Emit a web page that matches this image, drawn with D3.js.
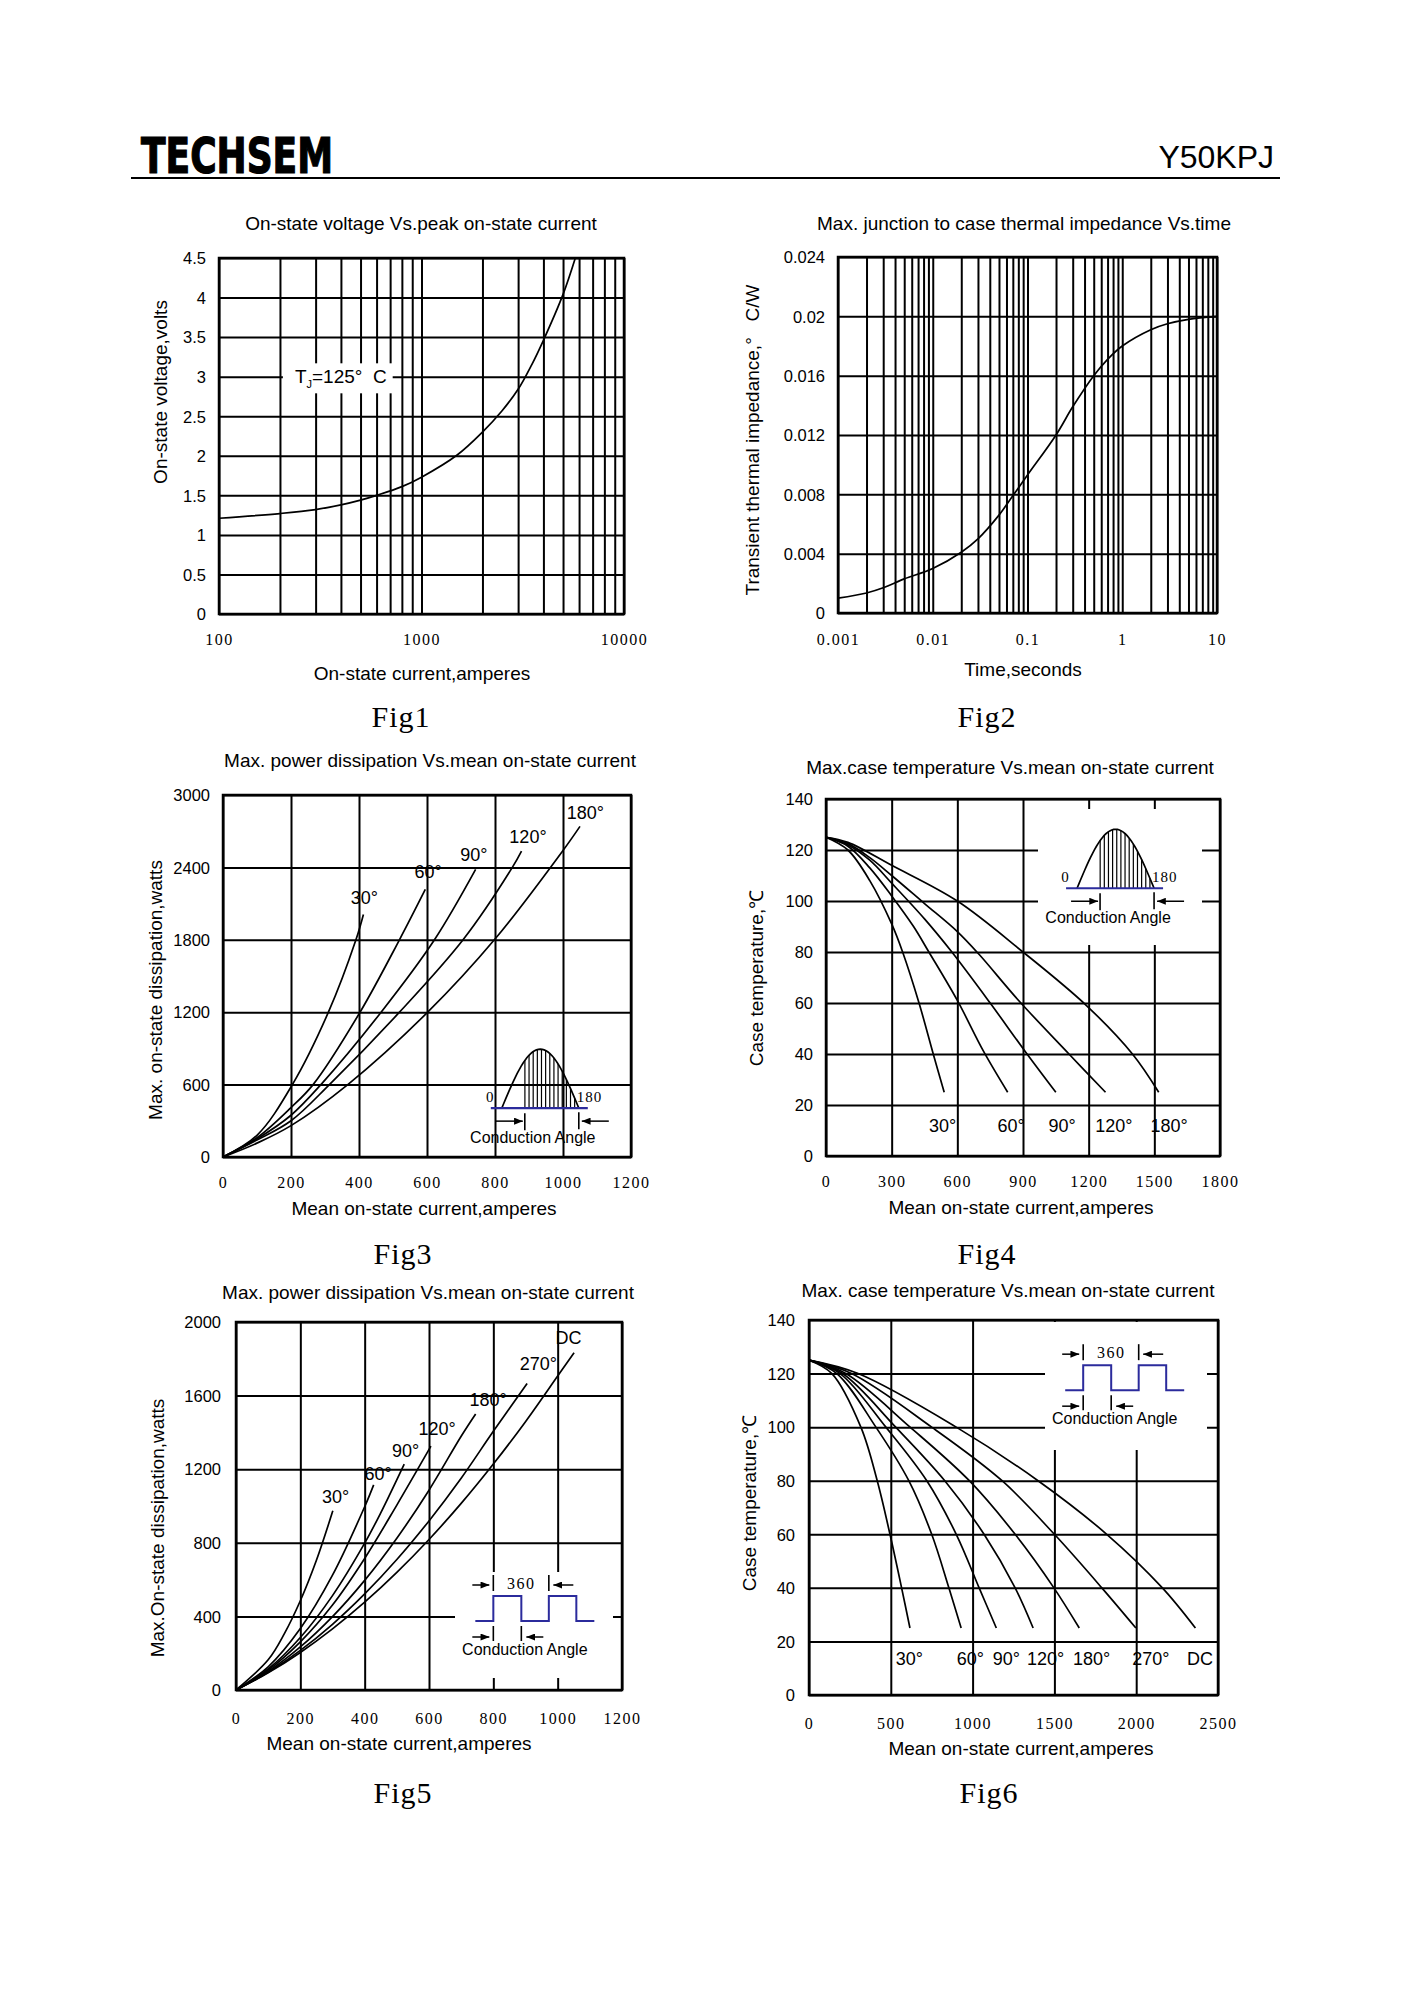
<!DOCTYPE html>
<html lang="en">
<head>
<meta charset="utf-8">
<title>Y50KPJ</title>
<script src="https://d3js.org/d3.v7.min.js"></script>
<style>
  body { margin: 0; background: #fff; }
  svg text { fill: #000; }
</style>
</head>
<body>
<svg id="page" width="1414" height="2000"></svg>
<script>
// ---------- data ----------
// Fig1: on-state voltage vs peak current (log x)
const fig1Current = [100, 200, 300, 400, 500, 600, 800, 1000, 1500, 2000, 2500, 3000, 3500, 4000, 5000, 5750];
const fig1Voltage = [1.21, 1.27, 1.32, 1.38, 1.44, 1.5, 1.61, 1.73, 2.01, 2.3, 2.57, 2.84, 3.15, 3.46, 4.04, 4.5];
const fig1XTicks = [100, 1000, 10000];
const fig1XLabels = ["100", "1000", "10000"];
const fig1YTicks = [0, 0.5, 1, 1.5, 2, 2.5, 3, 3.5, 4, 4.5];
const fig1YLabels = ["0", "0.5", "1", "1.5", "2", "2.5", "3", "3.5", "4", "4.5"];

// Fig2: transient thermal impedance vs time (log x)
const fig2Time = [0.001, 0.002, 0.003, 0.005, 0.01, 0.02, 0.03, 0.05, 0.07, 0.1, 0.2, 0.3, 0.5, 0.7, 1, 2, 3, 5, 10];
const fig2Imp = [0.001, 0.00135, 0.0017, 0.0023, 0.003, 0.0041, 0.005, 0.0066, 0.0079, 0.0093, 0.012, 0.0139, 0.016, 0.0171, 0.018, 0.0191, 0.0195, 0.0198, 0.02];
const fig2XTicks = [0.001, 0.01, 0.1, 1, 10];
const fig2XLabels = ["0.001", "0.01", "0.1", "1", "10"];
const fig2YTicks = [0, 0.004, 0.008, 0.012, 0.016, 0.02, 0.024];
const fig2YLabels = ["0", "0.004", "0.008", "0.012", "0.016", "0.02", "0.024"];

// Fig3: power dissipation, sine wave
const fig3Angles = ["30°", "60°", "90°", "120°", "180°"];
const fig3Current = [
  [0, 100, 204, 310, 391, 413],
  [0, 100, 200, 265, 403, 519, 595],
  [0, 100, 200, 288, 465, 622, 743],
  [0, 100, 200, 313, 519, 706, 851, 878],
  [0, 100, 200, 367, 602, 800, 1000, 1050]
];
const fig3Power = [
  [0, 180, 600, 1200, 1800, 2010],
  [0, 160, 410, 600, 1200, 1800, 2217],
  [0, 150, 346, 600, 1200, 1800, 2383],
  [0, 140, 300, 600, 1200, 1800, 2400, 2535],
  [0, 115, 260, 600, 1200, 1806, 2540, 2740]
];
const fig3XTicks = [0, 200, 400, 600, 800, 1000, 1200];
const fig3YTicks = [0, 600, 1200, 1800, 2400, 3000];

// Fig4: case temperature, sine wave
const fig4Angles = ["30°", "60°", "90°", "120°", "180°"];
const fig4Current = [
  [0, 100, 200, 300, 350, 425, 490, 540],
  [0, 100, 200, 300, 400, 470, 600, 720, 830],
  [0, 100, 200, 300, 450, 575, 750, 910, 1050],
  [0, 100, 200, 300, 450, 600, 700, 880, 1110, 1277],
  [0, 100, 300, 600, 900, 1190, 1400, 1520]
];
const fig4Temp = [
  [125, 120, 108, 91, 80, 60, 40, 25],
  [125, 121.5, 113, 102, 90, 80, 61, 41, 25],
  [125, 122, 116, 107, 93, 80, 60, 41, 25],
  [125, 122.5, 117, 110, 99, 88, 79, 61, 40, 25],
  [125, 123, 114, 100, 80, 59, 40, 25]
];
const fig4XTicks = [0, 300, 600, 900, 1200, 1500, 1800];
const fig4YTicks = [0, 20, 40, 60, 80, 100, 120, 140];

// Fig5: power dissipation, square wave
const fig5Angles = ["30°", "60°", "90°", "120°", "180°", "270°", "DC"];
const fig5Current = [
  [0, 100, 150, 200, 250, 301],
  [0, 100, 200, 300, 400, 428],
  [0, 100, 200, 300, 400, 450, 523],
  [0, 100, 200, 300, 400, 500, 606],
  [0, 100, 200, 300, 400, 500, 600, 700, 745],
  [0, 100, 200, 300, 400, 500, 600, 700, 800, 905],
  [0, 100, 200, 300, 400, 500, 600, 700, 800, 900, 1000, 1051]
];
const fig5Power = [
  [0, 164, 305, 485, 705, 974],
  [0, 126, 334, 624, 996, 1115],
  [0, 114, 285, 513, 798, 963, 1228],
  [0, 108, 262, 462, 715, 1005, 1325],
  [0, 101, 234, 399, 596, 825, 1086, 1379, 1500],
  [0, 96, 215, 357, 522, 709, 919, 1151, 1406, 1666],
  [0, 93, 204, 332, 477, 639, 818, 1014, 1228, 1458, 1706, 1833]
];
const fig5XTicks = [0, 200, 400, 600, 800, 1000, 1200];
const fig5YTicks = [0, 400, 800, 1200, 1600, 2000];

// Fig6: case temperature, square wave (current where each curve crosses the temperature levels)
const fig6Angles = ["30°", "60°", "90°", "120°", "180°", "270°", "DC"];
const fig6Levels = [125, 120, 100, 80, 60, 40, 25];
const fig6Current = [
  [0, 140, 317, 417, 495, 566, 617],
  [0, 170, 409, 610, 750, 855, 930],
  [0, 190, 470, 720, 900, 1040, 1145],
  [0, 205, 530, 830, 1070, 1260, 1370],
  [0, 225, 618, 980, 1260, 1497, 1652],
  [0, 260, 750, 1180, 1500, 1790, 1998],
  [0, 300, 900, 1400, 1820, 2160, 2362]
];
const fig6XTicks = [0, 500, 1000, 1500, 2000, 2500];
const fig6YTicks = [0, 20, 40, 60, 80, 100, 120, 140];

// ---------- drawing ----------
const sans = "'Liberation Sans', Arial, sans-serif";
const serif = "'Liberation Serif', 'Times New Roman', serif";
const blue = "#2b2b9c";

const svg = d3.select("#page");
svg.append("rect").attr("width", 1414).attr("height", 2000).attr("fill", "#fff");

svg.append("defs").append("marker")
  .attr("id", "head").attr("viewBox", "0 0 10 8").attr("refX", 10).attr("refY", 4)
  .attr("markerWidth", 9).attr("markerHeight", 7).attr("markerUnits", "userSpaceOnUse")
  .attr("orient", "auto")
  .append("path").attr("d", "M0,0L10,4L0,8Z").attr("fill", "#000");

// header
svg.append("text").attr("x", 141).attr("y", 173).text("TECHSEM")
  .attr("font-family", "'DejaVu Sans Condensed', 'DejaVu Sans', sans-serif")
  .attr("font-weight", 700).attr("font-size", 49)
  .attr("stroke", "#000").attr("stroke-width", 1.2)
  .attr("textLength", 192).attr("lengthAdjust", "spacingAndGlyphs");
svg.append("text").attr("x", 1274).attr("y", 168).text("Y50KPJ")
  .attr("font-family", sans).attr("font-size", 32).attr("text-anchor", "end");
svg.append("line").attr("x1", 131).attr("x2", 1280).attr("y1", 178).attr("y2", 178)
  .attr("stroke", "#000").attr("stroke-width", 2);

function logGrid(lo, hi) {
  const out = [];
  for (let d = lo; d < hi * 0.99; d *= 10) for (let k = 1; k <= 9; k++) out.push(+(k * d).toPrecision(3));
  out.push(hi);
  return out;
}

function plot(c) {
  const g = svg.append("g");
  const x = c.x.range([c.L, c.R]);
  const y = c.y.range([c.B, c.T]);

  g.append("g").attr("transform", `translate(0,${c.B})`)
    .call(d3.axisBottom(x).tickValues(c.xGrid).tickSize(-(c.B - c.T)).tickFormat(""))
    .call(a => a.select(".domain").remove())
    .selectAll("line").attr("stroke", "#000").attr("stroke-width", 2);
  g.append("g").attr("transform", `translate(${c.L},0)`)
    .call(d3.axisLeft(y).tickValues(c.yGrid).tickSize(-(c.R - c.L)).tickFormat(""))
    .call(a => a.select(".domain").remove())
    .selectAll("line").attr("stroke", "#000").attr("stroke-width", 2);

  if (c.box) {
    g.append("rect").attr("x", c.box[0]).attr("y", c.box[1])
      .attr("width", c.box[2] - c.box[0]).attr("height", c.box[3] - c.box[1]).attr("fill", "#fff");
  }
  g.append("rect").attr("x", c.L).attr("y", c.T).attr("width", c.R - c.L).attr("height", c.B - c.T)
    .attr("fill", "none").attr("stroke", "#000").attr("stroke-width", 2.5);

  // tick labels
  g.append("g").attr("transform", `translate(0,${c.xTickY})`)
    .call(d3.axisBottom(x).tickValues(c.xTicks).tickSize(0).tickFormat((d, i) => c.xLabels[i]))
    .call(a => a.select(".domain").remove())
    .selectAll("text").attr("y", 0).attr("dy", null)
    .attr("font-family", serif).attr("font-size", 16).attr("letter-spacing", 1.5).attr("fill", "#333");
  g.append("g").attr("transform", `translate(${c.yTickX},0)`)
    .call(d3.axisLeft(y).tickValues(c.yTicks).tickSize(0).tickFormat((d, i) => c.yLabels[i]))
    .call(a => a.select(".domain").remove())
    .selectAll("text").attr("x", 0).attr("dy", "0.35em")
    .attr("font-family", sans).attr("font-size", 16.5).attr("fill", "#000");

  // titles
  g.append("text").attr("x", c.title[0]).attr("y", c.title[1]).attr("text-anchor", "middle")
    .attr("font-family", sans).attr("font-size", 19).text(c.titleText);
  g.append("text").attr("x", c.xTitle[0]).attr("y", c.xTitle[1]).attr("text-anchor", "middle")
    .attr("font-family", sans).attr("font-size", 19).text(c.xTitleText);
  g.append("text").attr("transform", `translate(${c.yTitle[0]},${c.yTitle[1]}) rotate(-90)`)
    .attr("text-anchor", "middle").attr("dominant-baseline", "central")
    .attr("font-family", sans).attr("font-size", 19).style("white-space", "pre").text(c.yTitleText);
  g.append("text").attr("x", c.fig[0]).attr("y", c.fig[1]).attr("text-anchor", "middle")
    .attr("font-family", serif).attr("font-size", 30).attr("letter-spacing", 1).attr("fill", "#222")
    .text(c.figText);
  return { g, x, y };
}

function curves(p, xs, ys, width) {
  const line = d3.line().x(d => p.x(d[0])).y(d => p.y(d[1])).curve(d3.curveCatmullRom.alpha(0.5));
  p.g.append("g").selectAll("path").data(xs.map((a, i) => d3.zip(a, ys[i])))
    .join("path").attr("d", line).attr("fill", "none")
    .attr("stroke", "#000").attr("stroke-width", width || 1.7);
}

function angleLabels(p, names, spots) {
  p.g.append("g").selectAll("text").data(names).join("text")
    .attr("x", (d, i) => p.x(spots[i][0])).attr("y", (d, i) => p.y(spots[i][1]))
    .attr("text-anchor", "middle").attr("dominant-baseline", "central")
    .attr("font-family", sans).attr("font-size", 18).text(d => d);
}

function arrow(g, x1, x2, yy) {
  g.append("line").attr("x1", x1).attr("x2", x2).attr("y1", yy).attr("y2", yy)
    .attr("stroke", "#000").attr("stroke-width", 1.5).attr("marker-end", "url(#head)");
}
function tick(g, xx, y1, y2) {
  g.append("line").attr("x1", xx).attr("x2", xx).attr("y1", y1).attr("y2", y2)
    .attr("stroke", "#000").attr("stroke-width", 1.6);
}

// half-sine conduction angle sketch
function sineInset(g, sx, base) {
  const w = 77, amp = 59;
  const f = t => base - amp * Math.sin(Math.PI * t);
  const hatch = d3.range(14).map(i => 0.3 + i * 0.7 / 13);
  g.append("g").selectAll("line").data(hatch).join("line")
    .attr("x1", t => sx + w * t).attr("x2", t => sx + w * t)
    .attr("y1", base).attr("y2", t => f(t)).attr("stroke", "#000").attr("stroke-width", 1.2);
  g.append("path").attr("d", d3.line()(d3.range(41).map(i => [sx + w * i / 40, f(i / 40)])))
    .attr("fill", "none").attr("stroke", "#000").attr("stroke-width", 1.7);
  g.append("line").attr("x1", sx - 11).attr("x2", sx + w + 9).attr("y1", base).attr("y2", base)
    .attr("stroke", blue).attr("stroke-width", 2.2);
  g.append("text").attr("x", sx - 12).attr("y", base - 6).attr("text-anchor", "middle")
    .attr("font-family", serif).attr("font-size", 15).attr("fill", "#444").text("0");
  g.append("text").attr("x", sx + w - 2).attr("y", base - 6)
    .attr("font-family", serif).attr("font-size", 15).attr("fill", "#444").attr("letter-spacing", 1).text("180");
  arrow(g, sx - 6, sx + 21, base + 13);
  tick(g, sx + 23, base + 5, base + 22);
  arrow(g, sx + w + 30, sx + w + 3, base + 13);
  tick(g, sx + w, base + 4, base + 21);
  g.append("text").attr("x", sx + 31).attr("y", base + 35).attr("text-anchor", "middle")
    .attr("font-family", sans).attr("font-size", 16).text("Conduction Angle");
}

// square-wave conduction angle sketch
function pulseInset(g, r, low) {
  const h = 25;
  g.append("path")
    .attr("d", `M${r - 18},${low}H${r}V${low - h}H${r + 28}V${low}H${r + 55.5}V${low - h}H${r + 83}V${low}H${r + 101}`)
    .attr("fill", "none").attr("stroke", blue).attr("stroke-width", 2);
  const ta = low - 36, ba = low + 16;
  arrow(g, r - 21, r - 4, ta);
  tick(g, r, ta - 10, ta + 6);
  g.append("text").attr("x", r + 28).attr("y", ta + 4).attr("text-anchor", "middle")
    .attr("font-family", serif).attr("font-size", 16).attr("letter-spacing", 1.5).attr("fill", "#333").text("360");
  tick(g, r + 55.5, ta - 10, ta + 6);
  arrow(g, r + 80, r + 60, ta);
  arrow(g, r - 21, r - 4, ba);
  tick(g, r, ba - 11, ba + 4);
  tick(g, r + 28, ba - 11, ba + 4);
  arrow(g, r + 50, r + 33, ba);
  g.append("text").attr("x", r + 31.5).attr("y", low + 34).attr("text-anchor", "middle")
    .attr("font-family", sans).attr("font-size", 16).text("Conduction Angle");
}

const mean = "Mean on-state current,amperes";
const fmt = v => v.map(String);

// Fig1
const p1 = plot({
  x: d3.scaleLog().domain([100, 10000]), y: d3.scaleLinear().domain([0, 4.5]),
  L: 219, R: 624, T: 258, B: 614,
  xGrid: logGrid(100, 10000), yGrid: fig1YTicks,
  xTicks: fig1XTicks, xLabels: fig1XLabels, yTicks: fig1YTicks, yLabels: fig1YLabels,
  xTickY: 645, yTickX: 206,
  title: [421, 230], titleText: "On-state voltage Vs.peak on-state current",
  xTitle: [422, 680], xTitleText: "On-state current,amperes",
  yTitle: [160, 392], yTitleText: "On-state voltage,volts",
  fig: [401, 727], figText: "Fig1"
});
const tjBox = p1.g.append("rect").attr("fill", "#fff");
const tj = p1.g.append("text").attr("x", p1.x(237)).attr("y", p1.y(3)).attr("dy", "0.35em")
  .attr("font-family", sans).attr("font-size", 19).style("white-space", "pre");
tj.append("tspan").text("T");
tj.append("tspan").attr("font-size", 11).attr("dy", 5).text("J");
tj.append("tspan").attr("dy", -5).text("=125°  C");
const bb = tj.node().getBBox();
tjBox.attr("x", bb.x - 12).attr("y", bb.y - 3).attr("width", bb.width + 18).attr("height", bb.height + 6);
curves(p1, [fig1Current], [fig1Voltage], 1.7);

// Fig2
const p2 = plot({
  x: d3.scaleLog().domain([0.001, 10]), y: d3.scaleLinear().domain([0, 0.024]),
  L: 838, R: 1217, T: 257, B: 613,
  xGrid: logGrid(0.001, 10), yGrid: fig2YTicks,
  xTicks: fig2XTicks, xLabels: fig2XLabels, yTicks: fig2YTicks, yLabels: fig2YLabels,
  xTickY: 645, yTickX: 825,
  title: [1024, 230], titleText: "Max. junction to case thermal impedance Vs.time",
  xTitle: [1023, 676], xTitleText: "Time,seconds",
  yTitle: [752, 440], yTitleText: "Transient thermal impedance,°   C/W",
  fig: [987, 727], figText: "Fig2"
});
curves(p2, [fig2Time], [fig2Imp], 1.7);

// Fig3
const p3 = plot({
  x: d3.scaleLinear().domain([0, 1200]), y: d3.scaleLinear().domain([0, 3000]),
  L: 223, R: 631, T: 795, B: 1157,
  xGrid: fig3XTicks, yGrid: fig3YTicks,
  xTicks: fig3XTicks, xLabels: fmt(fig3XTicks), yTicks: fig3YTicks, yLabels: fmt(fig3YTicks),
  xTickY: 1188, yTickX: 210,
  title: [430, 767], titleText: "Max. power dissipation Vs.mean on-state current",
  xTitle: [424, 1215], xTitleText: mean,
  yTitle: [155, 990], yTitleText: "Max. on-state dissipation,watts",
  fig: [403, 1264], figText: "Fig3"
});
sineInset(p3.g, p3.x(820), p3.y(405));
curves(p3, fig3Current, fig3Power);
angleLabels(p3, fig3Angles, [[416, 2143], [603, 2359], [738, 2502], [897, 2654], [1066, 2848]]);

// Fig4
const p4 = plot({
  x: d3.scaleLinear().domain([0, 1800]), y: d3.scaleLinear().domain([0, 140]),
  L: 826, R: 1220, T: 799, B: 1156,
  xGrid: fig4XTicks, yGrid: fig4YTicks,
  xTicks: fig4XTicks, xLabels: fmt(fig4XTicks), yTicks: fig4YTicks, yLabels: fmt(fig4YTicks),
  xTickY: 1187, yTickX: 813,
  box: [1038, 809, 1202, 945],
  title: [1010, 774], titleText: "Max.case temperature Vs.mean on-state current",
  xTitle: [1021, 1214], xTitleText: mean,
  yTitle: [756, 978], yTitleText: "Case temperature,℃",
  fig: [987, 1264], figText: "Fig4"
});
sineInset(p4.g, p4.x(1147), p4.y(105));
curves(p4, fig4Current, fig4Temp);
angleLabels(p4, fig4Angles, [[533, 11.6], [846, 11.6], [1079, 11.6], [1315, 11.6], [1567, 11.6]]);

// Fig5
const p5 = plot({
  x: d3.scaleLinear().domain([0, 1200]), y: d3.scaleLinear().domain([0, 2000]),
  L: 236, R: 622, T: 1322, B: 1690,
  xGrid: fig5XTicks, yGrid: fig5YTicks,
  xTicks: fig5XTicks, xLabels: fmt(fig5XTicks), yTicks: fig5YTicks, yLabels: fmt(fig5YTicks),
  xTickY: 1724, yTickX: 221,
  box: [455, 1572, 613, 1678],
  title: [428, 1299], titleText: "Max. power dissipation Vs.mean on-state current",
  xTitle: [399, 1750], xTitleText: mean,
  yTitle: [157, 1528], yTitleText: "Max.On-state dissipation,watts",
  fig: [403, 1803], figText: "Fig5"
});
pulseInset(p5.g, p5.x(800), p5.y(375));
curves(p5, fig5Current, fig5Power);
angleLabels(p5, fig5Angles, [[310, 1049], [442, 1176], [527, 1300], [625, 1418], [784, 1576], [940, 1773], [1034, 1915]]);

// Fig6
const p6 = plot({
  x: d3.scaleLinear().domain([0, 2500]), y: d3.scaleLinear().domain([0, 140]),
  L: 809, R: 1218, T: 1320, B: 1695,
  xGrid: fig6XTicks, yGrid: fig6YTicks,
  xTicks: fig6XTicks, xLabels: fmt(fig6XTicks), yTicks: fig6YTicks, yLabels: fmt(fig6YTicks),
  xTickY: 1729, yTickX: 795,
  box: [1045, 1322, 1207, 1450],
  title: [1008, 1297], titleText: "Max. case temperature Vs.mean on-state current",
  xTitle: [1021, 1755], xTitleText: mean,
  yTitle: [749, 1503], yTitleText: "Case temperature,℃",
  fig: [989, 1803], figText: "Fig6"
});
pulseInset(p6.g, p6.x(1676), p6.y(113.8));
curves(p6, fig6Current, fig6Current.map(() => fig6Levels));
angleLabels(p6, fig6Angles, [[613, 13.3], [986, 13.3], [1207, 13.3], [1446, 13.3], [1728, 13.3], [2090, 13.3], [2390, 13.3]]);
</script>
</body>
</html>
